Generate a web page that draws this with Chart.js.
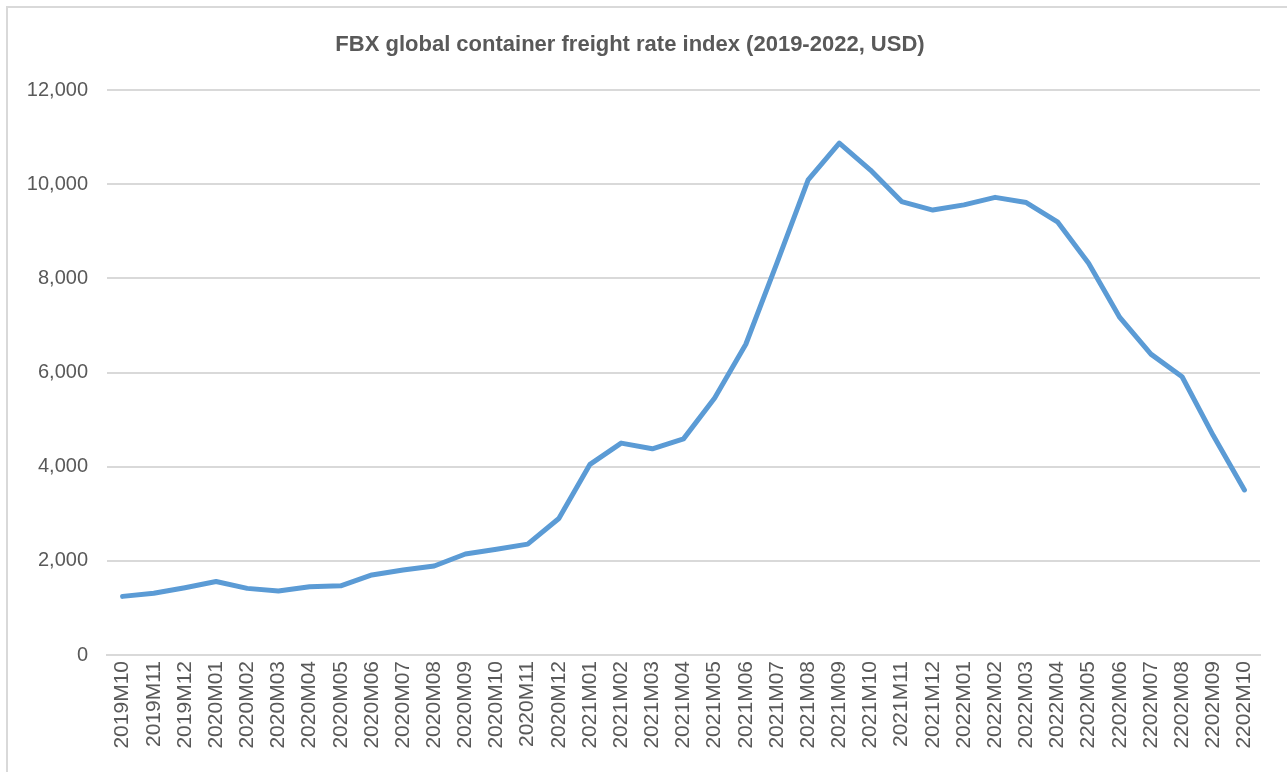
<!DOCTYPE html>
<html lang="en">
<head>
    <meta charset="UTF-8">
    <title>FBX global container freight rate index</title>
    <script src="https://cdn.jsdelivr.net/npm/chart.js"></script>
    <style>
        html, body { margin: 0; padding: 0; background: #fff; overflow: hidden; }
        #wrap { position: absolute; left: 0; top: 0; width: 1287px; height: 772px; }
        #frame {
            position: absolute; left: 6px; top: 6px; width: 1300px; height: 800px;
            border-left: 2px solid #d9d9d9; border-top: 2px solid #d9d9d9;
            pointer-events: none;
        }
    </style>
</head>
<body>

<div id="wrap"><canvas id="fbxChart" width="1287" height="772"></canvas></div>
<div id="frame"></div>

<script>
    // months (the source has "2202" typos for the last six, kept as is)
    const months = [
        '2019M10', '2019M11', '2019M12',
        '2020M01', '2020M02', '2020M03', '2020M04', '2020M05', '2020M06',
        '2020M07', '2020M08', '2020M09', '2020M10', '2020M11', '2020M12',
        '2021M01', '2021M02', '2021M03', '2021M04', '2021M05', '2021M06',
        '2021M07', '2021M08', '2021M09', '2021M10', '2021M11', '2021M12',
        '2022M01', '2022M02', '2022M03', '2022M04',
        '2202M05', '2202M06', '2202M07', '2202M08', '2202M09', '2202M10'
    ];

    // FBX index, USD
    const fbxIndex = [
        1245, 1310, 1430,
        1560, 1415, 1360, 1450, 1470, 1700,
        1805, 1890, 2145, 2245, 2355, 2900,
        4050, 4500, 4380, 4590, 5460, 6600,
        8330, 10090, 10870, 10300, 9630, 9450,
        9560, 9720, 9610, 9200,
        8320, 7170, 6390, 5910, 4660, 3505
    ];

    const yMax = 12000;
    const yStep = 2000;

    const chartTitle = 'FBX global container freight rate index (2019-2022, USD)';

    const fontFamily = 'Liberation Sans, Arial, sans-serif';

    const ctx = document.getElementById('fbxChart').getContext('2d');
    new Chart(ctx, {
        type: 'line',
        data: {
            labels: months,
            datasets: [{
                label: 'FBX',
                data: fbxIndex,
                borderColor: '#5b9bd5',
                borderWidth: 5,
                borderJoinStyle: 'round',
                borderCapStyle: 'round',
                pointRadius: 0,
                tension: 0,
                fill: false
            }]
        },
        options: {
            responsive: false,
            animation: false,
            layout: {
                padding: { left: 0, right: 27, top: 0, bottom: 0 }
            },
            plugins: {
                legend: { display: false },
                tooltip: { enabled: false },
                title: {
                    display: true,
                    text: chartTitle,
                    color: '#595959',
                    font: { family: fontFamily, size: 22, weight: 'bold' },
                    padding: { top: 32, bottom: 31.6 }
                }
            },
            scales: {
                x: {
                    offset: true,
                    grid: { display: false, drawTicks: false },
                    border: { display: true, color: '#d9d9d9', width: 2 },
                    ticks: {
                        color: '#595959',
                        font: { family: fontFamily, size: 21 },
                        minRotation: 90,
                        maxRotation: 90,
                        autoSkip: false,
                        padding: 6
                    },
                    afterFit: function (scale) { scale.height = 117; }
                },
                y: {
                    min: 0,
                    max: yMax,
                    grid: { color: '#d9d9d9', lineWidth: 2, drawTicks: false },
                    border: { display: false },
                    ticks: {
                        stepSize: yStep,
                        color: '#595959',
                        font: { family: fontFamily, size: 20 },
                        padding: 19,
                        callback: function (v) { return v.toLocaleString('en-US'); }
                    },
                    afterFit: function (scale) { scale.width = 107; }
                }
            }
        }
    });
</script>

</body>
</html>
